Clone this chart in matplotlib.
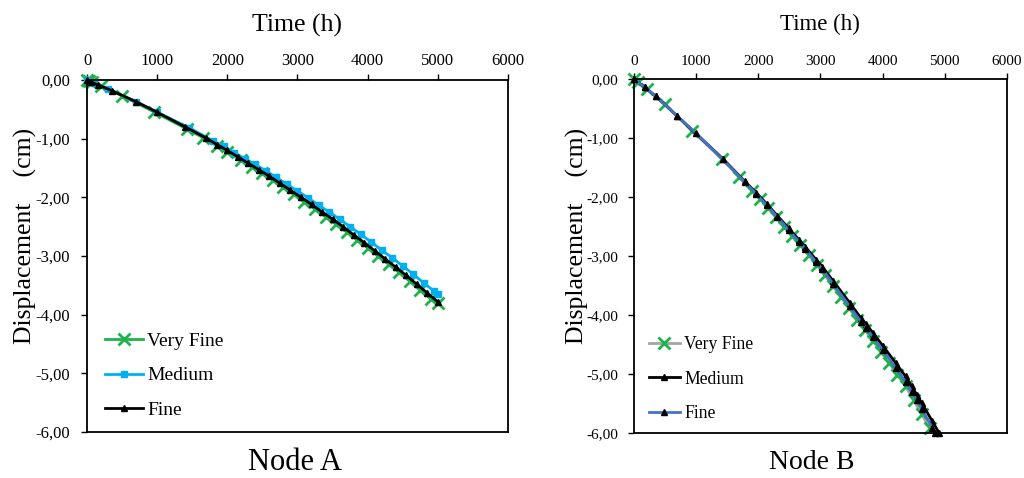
import matplotlib
matplotlib.use('Agg')
import matplotlib.pyplot as plt
from matplotlib.ticker import FuncFormatter

plt.rcParams['font.family'] = 'Liberation Serif'

# Node A
a_vf_x = [0, 25, 75, 200, 500, 950, 1430, 1650, 1850, 2000, 2200, 2350, 2500, 2650, 2800,
          2950, 3100, 3250, 3400, 3550, 3700, 3850, 4000, 4150, 4300, 4450, 4600, 4750, 4900, 5000]
a_vf_y = [0, -0.01, -0.04, -0.10, -0.27, -0.54, -0.84, -0.98, -1.12, -1.23, -1.37, -1.48, -1.59,
          -1.71, -1.83, -1.95, -2.08, -2.20, -2.33, -2.46, -2.59, -2.72, -2.86, -3.00, -3.14,
          -3.28, -3.43, -3.58, -3.73, -3.80]
a_med_x = [0, 100, 300, 700, 1000, 1450, 1800, 1950, 2100, 2250, 2400, 2550, 2700, 2850, 3000,
           3150, 3300, 3450, 3600, 3750, 3900, 4050, 4200, 4350, 4500, 4650, 4800, 4950, 5000]
a_med_y = [0, -0.05, -0.15, -0.37, -0.55, -0.81, -1.04, -1.13, -1.24, -1.34, -1.44, -1.55, -1.66,
           -1.78, -1.89, -2.01, -2.13, -2.25, -2.37, -2.50, -2.63, -2.76, -2.90, -3.03, -3.17,
           -3.31, -3.46, -3.60, -3.65]
a_fine_x = [0, 50, 150, 350, 700, 1000, 1400, 1700, 1850, 2000, 2150, 2300, 2450, 2600, 2750,
            2900, 3050, 3200, 3350, 3500, 3650, 3800, 3950, 4100, 4250, 4400, 4550, 4700, 4850, 5000]
a_fine_y = [0, -0.03, -0.08, -0.18, -0.37, -0.55, -0.80, -0.99, -1.10, -1.20, -1.31, -1.42, -1.53,
            -1.64, -1.76, -1.88, -2.00, -2.12, -2.25, -2.37, -2.50, -2.64, -2.77, -2.91, -3.05,
            -3.19, -3.33, -3.48, -3.63, -3.78]

# Node B
b_vf_x = [0, 60, 210, 500, 940, 1420, 1690, 1900, 2030, 2160, 2290, 2420, 2550, 2680, 2810,
          2940, 3070, 3200, 3330, 3460, 3590, 3720, 3850, 3980, 4110, 4240, 4370, 4500, 4630, 4760]
b_vf_y = [0, -0.05, -0.17, -0.43, -0.88, -1.36, -1.66, -1.89, -2.03, -2.18, -2.34, -2.50, -2.66,
          -2.82, -2.98, -3.15, -3.32, -3.51, -3.69, -3.88, -4.08, -4.26, -4.44, -4.63, -4.82,
          -5.01, -5.21, -5.44, -5.68, -5.92]
b_med_x = [0, 175, 350, 700, 1430, 1780, 1970, 2140, 2310, 2490, 2660, 2760, 2930, 3030, 3210,
           3470, 3650, 3740, 3850, 4010, 4210, 4370, 4470, 4550, 4630, 4800, 4910]
b_med_y = [0, -0.14, -0.29, -0.63, -1.35, -1.73, -1.93, -2.12, -2.32, -2.53, -2.73, -2.85, -3.06,
           -3.18, -3.43, -3.79, -4.05, -4.16, -4.31, -4.53, -4.81, -5.04, -5.21, -5.35, -5.49,
           -5.80, -6.00]
b_fine_x = [0, 175, 350, 700, 1000, 1430, 1780, 1970, 2140, 2310, 2490, 2660, 2760, 2930, 3030,
            3210, 3470, 3650, 3740, 3850, 4010, 4210, 4370, 4470, 4550, 4630, 4800, 4840]
b_fine_y = [0, -0.14, -0.29, -0.63, -0.92, -1.36, -1.74, -1.95, -2.14, -2.34, -2.56, -2.76, -2.88,
            -3.10, -3.22, -3.48, -3.85, -4.11, -4.22, -4.38, -4.60, -4.89, -5.13, -5.30, -5.44,
            -5.59, -5.91, -6.00]

green = '#1db24b'
fmt = FuncFormatter(lambda v, p: ('%.2f' % v).replace('.', ',').replace('-0,00', '0,00'))

fig = plt.figure(figsize=(10.24, 4.78), dpi=100)
axA = fig.add_axes([0.085, 0.0962, 0.411, 0.7364])
axB = fig.add_axes([0.619, 0.0941, 0.3643, 0.7406])


def style(ax, tick_size, title_size, tpad, ylx, ypad):
    ax.set_xlim(0, 6000)
    ax.set_ylim(-6, 0)
    ax.set_xticks(range(0, 7000, 1000))
    ax.set_yticks([0, -1, -2, -3, -4, -5, -6])
    ax.yaxis.set_major_formatter(fmt)
    ax.xaxis.tick_top()
    ax.xaxis.set_label_position('top')
    ax.tick_params(direction='out', length=4, width=1, labelsize=tick_size, pad=4)
    ax.tick_params(axis='y', pad=ypad)
    for s in ax.spines.values():
        s.set_linewidth(1.3)
    ax.set_xlabel('Time (h)', fontsize=title_size, labelpad=tpad)
    ax.set_ylabel('Displacement    (cm)', fontsize=18.5)
    ax.yaxis.set_label_coords(ylx, 0.558)


# left panel
axA.plot(a_vf_x, a_vf_y, color=green, lw=2, marker='x', ms=8, mew=2, label='Very Fine', clip_on=False)
axA.plot(a_med_x, a_med_y, color='#00b0f0', lw=2, marker='s', ms=5, label='Medium', clip_on=False)
axA.plot(a_fine_x, a_fine_y, color='black', lw=2, marker='^', ms=4, label='Fine', clip_on=False)
style(axA, 12, 18.5, 15, -0.12, 8)
axA.legend(loc='upper left', bbox_to_anchor=(0.043, 0.283), frameon=False, fontsize=14,
           handlelength=1.95, handletextpad=0.2, labelspacing=0.86, borderpad=0, borderaxespad=0)
fig.text(0.288, 0.033, 'Node A', fontsize=22, ha='center', va='center')

# right panel
axB.plot(b_vf_x, b_vf_y, color='#a5a5a5', lw=2, marker='x', ms=8, mew=2, mec=green, label='Very Fine', clip_on=False)
axB.plot(b_med_x, b_med_y, color='black', lw=2, marker='^', ms=4, label='Medium', clip_on=False)
axB.plot(b_fine_x, b_fine_y, color='#4472c4', lw=2, marker='^', ms=4, mfc='black', mec='black', label='Fine', clip_on=False)
style(axB, 11, 16.5, 18, -0.12, 7)
axB.legend(loc='upper left', bbox_to_anchor=(0.04, 0.273), frameon=False, fontsize=12.7,
           handlelength=1.76, handletextpad=0.25, labelspacing=0.98, borderpad=0, borderaxespad=0)
fig.text(0.793, 0.033, 'Node B', fontsize=20, ha='center', va='center')

plt.savefig('out.png', dpi=100)
